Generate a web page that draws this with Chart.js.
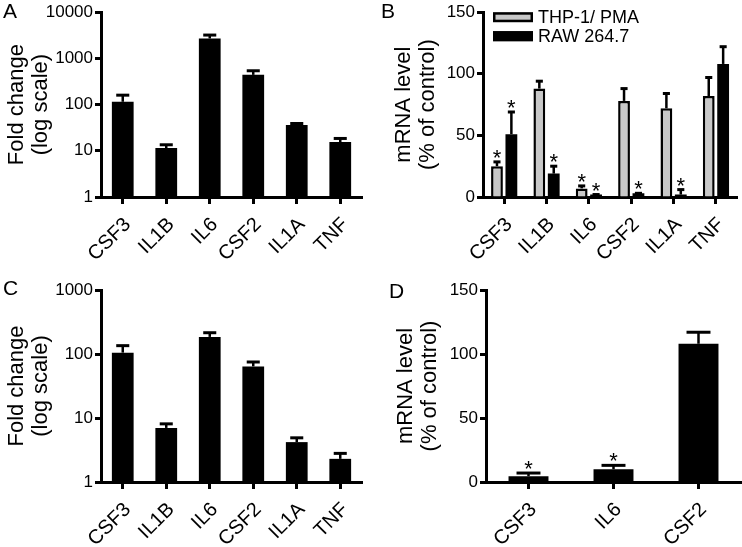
<!DOCTYPE html>
<html>
<head>
<meta charset="utf-8">
<script src="https://cdn.jsdelivr.net/npm/chart.js@4.4.1/dist/chart.umd.min.js"></script>
<style>
  body { margin: 0; background: #fff; }
  #wrap { position: relative; width: 742px; height: 547px; }
  canvas { position: absolute; }
  .lbl { position: absolute; font: 21px "Liberation Sans", Arial, sans-serif; color: #000; }
</style>
</head>
<body>
<div id="wrap">
  <canvas id="cA" width="371" height="270" style="left:0;top:0"></canvas>
  <canvas id="cB" width="371" height="270" style="left:371px;top:0"></canvas>
  <canvas id="cC" width="371" height="277" style="left:0;top:270px"></canvas>
  <canvas id="cD" width="371" height="277" style="left:371px;top:270px"></canvas>
  <div class="lbl" style="left:3px;top:-1px">A</div>
  <div class="lbl" style="left:381px;top:-1px">B</div>
  <div class="lbl" style="left:3px;top:276px">C</div>
  <div class="lbl" style="left:389px;top:279px">D</div>
</div>
<script>
// genes
const genes = ['CSF3', 'IL1B', 'IL6', 'CSF2', 'IL1A', 'TNF'];
const genesD = ['CSF3', 'IL6', 'CSF2'];

// y ticks
const logTicksA = [1, 10, 100, 1000, 10000];
const logTicksC = [1, 10, 100, 1000];
const pctTicks = [0, 50, 100, 150];

// A: fold change, log scale
const foldA = [115, 11.5, 2700, 440, 36, 15.5];
const semA = [45, 2, 500, 100, 3, 3];

// B: % of control
const thp = [25, 88, 7, 78, 72, 82];
const thpSem = [3.5, 6, 2, 10, 12, 15];
const thpStar = [true, false, true, false, false, false];
const raw = [51, 19, 2, 3, 2, 108];
const rawSem = [18, 6, 0, 0, 4, 14];
const rawStar = [true, true, true, true, true, false];

// C: fold change, log scale
const foldC = [105, 7, 185, 64, 4.2, 2.3];
const semC = [30, 1.1, 30, 11, 0.7, 0.5];

// D: % of control
const pctD = [4.5, 10, 108];
const semD = [2.5, 3, 9];
const starD = [true, true, false];

const FONT = '"Liberation Sans", Arial, sans-serif';
Chart.defaults.font.family = FONT;
Chart.defaults.color = '#000';

const errorBars = {
  id: 'errorBars',
  afterDatasetsDraw(chart) {
    const ctx = chart.ctx;
    const ys = chart.scales.y;
    chart.data.datasets.forEach((ds, di) => {
      const meta = chart.getDatasetMeta(di);
      meta.data.forEach((bar, i) => {
        const top = ys.getPixelForValue(ds.data[i] + ds.sem[i]);
        const cw = bar.width * 0.6;
        ctx.save();
        ctx.strokeStyle = '#000';
        ctx.lineWidth = 2.5;
        ctx.beginPath();
        ctx.moveTo(bar.x, bar.y);
        ctx.lineTo(bar.x, top);
        ctx.stroke();
        ctx.lineWidth = 3;
        ctx.beginPath();
        ctx.moveTo(bar.x - cw / 2, top);
        ctx.lineTo(bar.x + cw / 2, top);
        ctx.stroke();
        if (ds.stars && ds.stars[i]) {
          ctx.fillStyle = '#000';
          ctx.font = '22px ' + FONT;
          ctx.textAlign = 'center';
          ctx.textBaseline = 'alphabetic';
          ctx.fillText('*', bar.x, top + 3);
        }
        ctx.restore();
      });
    });
  }
};

// legend boxes inside plot area of panel B
const boxLegend = {
  id: 'boxLegend',
  afterDraw(chart) {
    if (!chart.options.plugins.boxLegend) return;
    const ctx = chart.ctx;
    const a = chart.chartArea;
    chart.data.datasets.forEach((ds, i) => {
      const x = a.left + 10, y = a.top + 0 + i * 19;
      ctx.save();
      ctx.fillStyle = ds.backgroundColor;
      ctx.fillRect(x, y, 40, 10);
      ctx.strokeStyle = '#000';
      ctx.lineWidth = 2.5;
      ctx.strokeRect(x + 1.25, y + 1.25, 37.5, 7.5);
      ctx.fillStyle = '#000';
      ctx.font = '18px ' + FONT;
      ctx.textBaseline = 'middle';
      ctx.fillText(ds.label, x + 45, y + 6);
      ctx.restore();
    });
  }
};

function axisY(opts) {
  return {
    type: opts.log ? 'logarithmic' : 'linear',
    min: opts.ticks[0],
    max: opts.ticks[opts.ticks.length - 1],
    afterFit: s => { s.width = opts.width; },
    afterBuildTicks: s => { s.ticks = opts.ticks.map(v => ({ value: v })); },
    border: { display: true, color: '#000', width: 3 },
    grid: { display: true, drawOnChartArea: false, drawTicks: true, tickLength: 6, tickWidth: 3, tickColor: '#000' },
    ticks: { font: { family: FONT, size: 17 }, padding: 2, color: '#000', callback: v => String(v) },
    title: { display: true, text: opts.title, font: { family: FONT, size: 22, lineHeight: 1.1 }, padding: { top: opts.titlePad }, color: '#000' }
  };
}

function axisX(height) {
  return {
    type: 'category',
    offset: true,
    afterFit: s => { s.height = height; },
    border: { display: true, color: '#000', width: 3 },
    grid: { display: true, offset: false, drawOnChartArea: false, drawTicks: true, tickLength: 7, tickWidth: 3, tickColor: '#000' },
    ticks: { font: { family: FONT, size: 20 }, padding: 9, labelOffset: 5, color: '#000', minRotation: 45, maxRotation: 45, autoSkip: false }
  };
}

function panel(id, labels, datasets, yOpts, xHeight, pad, extra) {
  new Chart(document.getElementById(id), {
    type: 'bar',
    data: { labels: labels, datasets: datasets },
    options: {
      responsive: false,
      animation: false,
      devicePixelRatio: 1,
      layout: { padding: pad },
      plugins: Object.assign({ legend: { display: false }, tooltip: { enabled: false } }, extra || {}),
      scales: { x: axisX(xHeight), y: axisY(yOpts) }
    },
    plugins: [errorBars, boxLegend]
  });
}

panel('cA', genes, [
  { label: 'Fold change', data: foldA, sem: semA, backgroundColor: '#000', borderColor: '#000', borderWidth: 0,
    categoryPercentage: 1, barPercentage: 0.5 }
], { log: true, ticks: logTicksA, width: 101, title: ['Fold change', '(log scale)'], titlePad: 5 },
  73, { left: 0, top: 10, right: 9, bottom: 0 });

panel('cB', genes, [
  { label: 'THP-1/ PMA', data: thp, sem: thpSem, stars: thpStar, backgroundColor: '#c8c8c8', borderColor: '#000', borderWidth: 2.5,
    categoryPercentage: 0.68, barPercentage: 0.82 },
  { label: 'RAW 264.7', data: raw, sem: rawSem, stars: rawStar, backgroundColor: '#000', borderColor: '#000', borderWidth: 0,
    categoryPercentage: 0.68, barPercentage: 0.82 }
], { log: false, ticks: pctTicks, width: 112, title: ['mRNA level', '(% of control)'], titlePad: 21 },
  73, { left: 0, top: 10, right: 1, bottom: 0 }, { boxLegend: true });

panel('cC', genes, [
  { label: 'Fold change', data: foldC, sem: semC, backgroundColor: '#000', borderColor: '#000', borderWidth: 0,
    categoryPercentage: 1, barPercentage: 0.5 }
], { log: true, ticks: logTicksC, width: 101, title: ['Fold change', '(log scale)'], titlePad: 5 },
  65, { left: 0, top: 20, right: 9, bottom: 0 });

panel('cD', genesD, [
  { label: 'mRNA level', data: pctD, sem: semD, stars: starD, backgroundColor: '#000', borderColor: '#000', borderWidth: 0,
    categoryPercentage: 1, barPercentage: 0.47 }
], { log: false, ticks: pctTicks, width: 115, title: ['mRNA level', '(% of control)'], titlePad: 23 },
  65, { left: 0, top: 20, right: 1, bottom: 0 });
</script>
</body>
</html>
